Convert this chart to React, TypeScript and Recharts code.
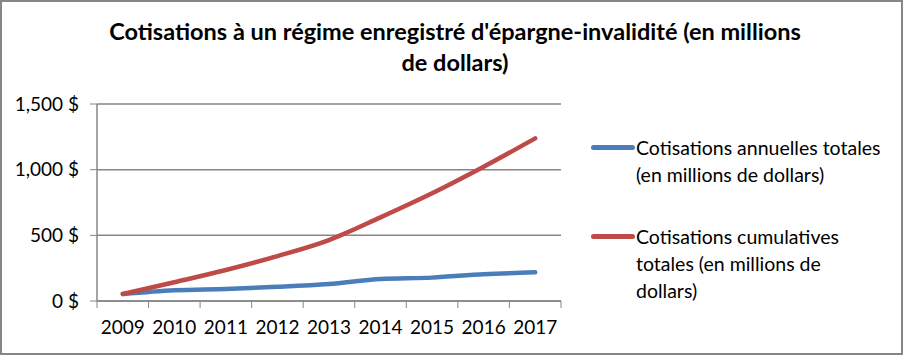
import { LineChart, Line, XAxis, YAxis, CartesianGrid, Legend } from 'recharts';

const years = ['2009', '2010', '2011', '2012', '2013', '2014', '2015', '2016', '2017'];
const annualTotals = [53, 82, 92, 108, 130, 168, 178, 204, 218];
const cumulativeTotals = [53, 143, 236, 342, 464, 637, 820, 1022, 1238];
const yTicks = [0, 500, 1000, 1500];

const seriesNames = [
  'Cotisations annuelles totales (en millions de dollars)',
  'Cotisations cumulatives totales (en millions de dollars)',
];
const legendLines = [
  ['Cotisations annuelles totales', '(en millions de dollars)'],
  ['Cotisations cumulatives', 'totales (en millions de', 'dollars)'],
];
const titleLines = ["Cotisations à un régime enregistré d'épargne-invalidité (en millions", 'de dollars)'];

const colors = ['#4A7EBB', '#BE4B48'];
const gray = '#868686';
const font = 'Lato, "Open Sans", sans-serif';
const halfBand = 25.8;
const legendWidth = 300;

const data = years.map((year, i) => ({
  year,
  annual: annualTotals[i],
  cumulative: cumulativeTotals[i],
}));

// Excel puts the tick marks between categories, so draw them by hand
const YearTick = (props: any) => {
  const { x, y, payload, index } = props;
  const axisY = y - 7;
  return (
    <g>
      <line x1={x - halfBand} x2={x - halfBand} y1={axisY} y2={axisY + 7} stroke={gray} />
      {index === years.length - 1 && (
        <line x1={x + halfBand} x2={x + halfBand} y1={axisY} y2={axisY + 7} stroke={gray} />
      )}
      <text x={x} y={axisY + 28} textAnchor="middle" dominantBaseline="middle" fontSize={19} fontFamily={font} fill="#000">
        {payload.value}
      </text>
    </g>
  );
};

const renderLegend = () => (
  <div style={{ fontFamily: font, fontSize: 19.5, color: '#000' }}>
    {legendLines.map((lines, i) => (
      <div key={i} style={{ display: 'flex', alignItems: 'flex-start', marginBottom: i === 0 ? 35 : 0 }}>
        <div style={{ width: 45, height: 27, display: 'flex', alignItems: 'center', flexShrink: 0 }}>
          <div style={{ width: 44, height: 5, borderRadius: 3, background: colors[i] }} />
        </div>
        <div style={{ lineHeight: '27px', whiteSpace: 'nowrap' }}>
          {lines.map((l, j) => (
            <div key={j}>{l}</div>
          ))}
        </div>
      </div>
    ))}
  </div>
);

export default function App() {
  return (
    <div style={{ position: 'absolute', left: 0, top: 0, width: 903, height: 355, background: '#fff' }}>
      <div
        style={{
          position: 'absolute',
          left: 0,
          top: 16,
          width: 910,
          textAlign: 'center',
          fontFamily: font,
          fontWeight: 700,
          fontSize: 23.5,
          lineHeight: '31px',
          color: '#000',
        }}
      >
        {titleLines.map((l, i) => (
          <div key={i}>{l}</div>
        ))}
      </div>
      <LineChart width={903} height={355} data={data} margin={{ top: 104, right: 342 - legendWidth, bottom: 24, left: 10 }}>
        <CartesianGrid vertical={false} stroke={gray} strokeWidth={1.5} />
        <XAxis
          dataKey="year"
          padding={{ left: halfBand, right: halfBand }}
          axisLine={{ stroke: gray, strokeWidth: 1.5 }}
          tickLine={false}
          tickSize={7}
          tickMargin={0}
          height={30}
          interval={0}
          tick={<YearTick />}
        />
        <YAxis
          domain={[0, 1500]}
          ticks={yTicks}
          width={87}
          axisLine={{ stroke: gray, strokeWidth: 1.5 }}
          tickLine={{ stroke: gray }}
          tickSize={7}
          tickMargin={11}
          tick={{ fill: '#000', fontSize: 19, fontFamily: font }}
          tickFormatter={(v: number) => `${v.toLocaleString('en-US')} $`}
        />
        <Line
          type="monotone"
          dataKey="annual"
          name={seriesNames[0]}
          stroke={colors[0]}
          strokeWidth={4.5}
          strokeLinecap="round"
          dot={false}
          isAnimationActive={false}
        />
        <Line
          type="monotone"
          dataKey="cumulative"
          name={seriesNames[1]}
          stroke={colors[1]}
          strokeWidth={4.5}
          strokeLinecap="round"
          dot={false}
          isAnimationActive={false}
        />
        <Legend
          layout="vertical"
          verticalAlign="top"
          align="right"
          content={renderLegend}
          wrapperStyle={{ left: 591, top: 134, right: 'auto', width: legendWidth }}
        />
      </LineChart>
      <div
        style={{
          position: 'absolute',
          left: 0,
          top: 0,
          width: 903,
          height: 355,
          boxSizing: 'border-box',
          border: `2px solid ${gray}`,
          pointerEvents: 'none',
        }}
      />
    </div>
  );
}
